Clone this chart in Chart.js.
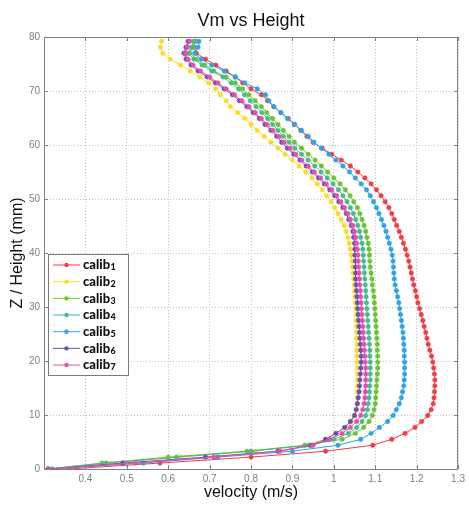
<!DOCTYPE html>
<html>
<head>
<meta charset="utf-8">
<script src="https://cdn.jsdelivr.net/npm/chart.js@4.4.1/dist/chart.umd.min.js"></script>
<style>
  html, body { margin: 0; padding: 0; background: #fff; }
  #wrap { width: 469px; height: 508px; }
</style>
</head>
<body>
<div id="wrap"><canvas id="vmChart" width="469" height="508"></canvas></div>
<script>
// heights (mm), shared by all runs
var heights = [0, 1.1, 2.2, 3.3, 4.4, 5.5, 6.6, 7.7, 8.8, 9.9,
  11, 12.1, 13.2, 14.3, 15.4, 16.5, 17.6, 18.7, 19.8, 20.9,
  22, 23.1, 24.2, 25.3, 26.4, 27.5, 28.6, 29.7, 30.8, 31.9,
  33, 34.1, 35.2, 36.3, 37.4, 38.5, 39.6, 40.7, 41.8, 42.9,
  44, 45.1, 46.2, 47.3, 48.4, 49.5, 50.6, 51.7, 52.8, 53.9,
  55, 56.1, 57.2, 58.3, 59.4, 60.5, 61.6, 62.7, 63.8, 64.9,
  66, 67.1, 68.2, 69.3, 70.4, 71.5, 72.6, 73.7, 74.8, 75.9,
  77, 78.1, 79.2];

// velocity (m/s) per run
var calib1 = [0.36, 0.58, 0.80, 0.98, 1.094, 1.14, 1.172, 1.196, 1.212, 1.227,
  1.235, 1.24, 1.242, 1.243, 1.244, 1.244, 1.243, 1.241, 1.239, 1.236,
  1.232, 1.228, 1.225, 1.222, 1.218, 1.215, 1.211, 1.207, 1.203, 1.2,
  1.197, 1.193, 1.19, 1.187, 1.184, 1.181, 1.177, 1.173, 1.168, 1.163,
  1.158, 1.152, 1.146, 1.14, 1.133, 1.124, 1.114, 1.103, 1.09, 1.075,
  1.058, 1.04, 1.018, 0.995, 0.972, 0.95, 0.935, 0.92, 0.905, 0.89,
  0.872, 0.855, 0.84, 0.825, 0.80, 0.78, 0.762, 0.74, 0.715, 0.69,
  0.668, 0.662, 0.665];
var calib2 = [0.31, 0.46, 0.63, 0.81, 0.93, 0.98, 1.005, 1.028, 1.042, 1.05,
  1.054, 1.056, 1.057, 1.057, 1.057, 1.057, 1.057, 1.057, 1.056, 1.056,
  1.056, 1.056, 1.055, 1.055, 1.055, 1.054, 1.054, 1.053, 1.052, 1.051,
  1.05, 1.049, 1.048, 1.047, 1.045, 1.044, 1.042, 1.04, 1.037, 1.034,
  1.03, 1.025, 1.018, 1.01, 1.002, 0.993, 0.983, 0.972, 0.96, 0.947,
  0.932, 0.916, 0.9, 0.882, 0.865, 0.848, 0.832, 0.815, 0.8, 0.785,
  0.768, 0.75, 0.74, 0.726, 0.714, 0.698, 0.676, 0.653, 0.63, 0.605,
  0.587, 0.581, 0.584];
var calib3 = [0.31, 0.44, 0.60, 0.79, 0.93, 1.02, 1.052, 1.072, 1.085, 1.093,
  1.097, 1.1, 1.101, 1.102, 1.103, 1.104, 1.105, 1.106, 1.106, 1.106,
  1.105, 1.105, 1.104, 1.103, 1.102, 1.101, 1.1, 1.099, 1.098, 1.097,
  1.095, 1.093, 1.092, 1.09, 1.088, 1.087, 1.086, 1.085, 1.083, 1.08,
  1.077, 1.073, 1.068, 1.063, 1.057, 1.048, 1.039, 1.028, 1.015, 1.0,
  0.985, 0.97, 0.955, 0.938, 0.922, 0.905, 0.892, 0.878, 0.865, 0.852,
  0.838, 0.825, 0.81, 0.795, 0.78, 0.762, 0.74, 0.71, 0.688, 0.668,
  0.652, 0.66, 0.666];
var calib4 = [0.31, 0.45, 0.62, 0.80, 0.94, 1.0, 1.035, 1.055, 1.068, 1.077,
  1.081, 1.083, 1.085, 1.086, 1.087, 1.088, 1.088, 1.088, 1.088, 1.087,
  1.087, 1.086, 1.085, 1.084, 1.083, 1.082, 1.081, 1.08, 1.079, 1.078,
  1.077, 1.076, 1.075, 1.074, 1.073, 1.072, 1.071, 1.07, 1.068, 1.065,
  1.062, 1.058, 1.053, 1.047, 1.04, 1.032, 1.022, 1.011, 0.998, 0.984,
  0.969, 0.954, 0.938, 0.922, 0.906, 0.892, 0.878, 0.865, 0.852, 0.84,
  0.826, 0.812, 0.798, 0.784, 0.77, 0.752, 0.732, 0.705, 0.682, 0.662,
  0.648, 0.656, 0.662];
var calib5 = [0.32, 0.54, 0.72, 0.90, 1.01, 1.065, 1.09, 1.11, 1.13, 1.143,
  1.151, 1.158, 1.163, 1.166, 1.169, 1.17, 1.171, 1.171, 1.171, 1.17,
  1.17, 1.169, 1.168, 1.167, 1.165, 1.163, 1.161, 1.159, 1.157, 1.154,
  1.151, 1.148, 1.146, 1.145, 1.144, 1.143, 1.141, 1.138, 1.134, 1.13,
  1.126, 1.121, 1.115, 1.109, 1.103, 1.096, 1.088, 1.079, 1.066, 1.052,
  1.038, 1.022, 1.005, 0.988, 0.97, 0.952, 0.938, 0.922, 0.905, 0.888,
  0.872, 0.855, 0.843, 0.835, 0.815, 0.785, 0.762, 0.735, 0.705, 0.68,
  0.664, 0.672, 0.674];
var calib6 = [0.31, 0.49, 0.69, 0.865, 0.945, 0.98, 1.005, 1.026, 1.04, 1.05,
  1.054, 1.057, 1.059, 1.061, 1.062, 1.063, 1.064, 1.065, 1.066, 1.066,
  1.065, 1.064, 1.063, 1.062, 1.061, 1.06, 1.059, 1.058, 1.057, 1.056,
  1.055, 1.054, 1.053, 1.053, 1.052, 1.052, 1.051, 1.051, 1.05, 1.048,
  1.046, 1.042, 1.036, 1.03, 1.022, 1.012, 1.002, 0.99, 0.977, 0.963,
  0.948, 0.933, 0.918, 0.903, 0.888, 0.874, 0.862, 0.848, 0.834, 0.82,
  0.805, 0.79, 0.772, 0.755, 0.735, 0.714, 0.694, 0.672, 0.655, 0.643,
  0.638, 0.643, 0.648];
var calib7 = [0.31, 0.52, 0.71, 0.87, 0.95, 0.99, 1.02, 1.04, 1.055, 1.065,
  1.07, 1.073, 1.075, 1.076, 1.077, 1.077, 1.077, 1.077, 1.076, 1.075,
  1.074, 1.073, 1.072, 1.071, 1.07, 1.069, 1.068, 1.067, 1.066, 1.065,
  1.064, 1.063, 1.062, 1.061, 1.06, 1.059, 1.058, 1.057, 1.055, 1.053,
  1.05, 1.046, 1.04, 1.034, 1.026, 1.017, 1.007, 0.995, 0.982, 0.968,
  0.953, 0.938, 0.923, 0.908, 0.894, 0.88, 0.867, 0.853, 0.839, 0.825,
  0.81, 0.795, 0.778, 0.76, 0.74, 0.72, 0.7, 0.678, 0.66, 0.648,
  0.642, 0.646, 0.652];

var seriesNames = ['calib1', 'calib2', 'calib3', 'calib4', 'calib5', 'calib6', 'calib7'];
var seriesValues = [calib1, calib2, calib3, calib4, calib5, calib6, calib7];
var seriesColors = ['#f23c46', '#fbdc2a', '#6ec234', '#3fbf8c', '#2ea3e6', '#6c4fb4', '#e64fb0'];

var datasets = seriesValues.map(function (vals, k) {
  return {
    label: seriesNames[k],
    data: vals.map(function (v, i) { return { x: v, y: heights[i] }; }),
    borderColor: seriesColors[k],
    backgroundColor: seriesColors[k],
    borderWidth: 1,
    pointRadius: 2.2,
    pointBorderWidth: 0.6,
    showLine: true,
    order: seriesNames.length - k
  };
});

// frame, inner ticks, titles and legend, MATLAB style
var matlabDecor = {
  id: 'matlabDecor',
  afterDraw: function (chart) {
    var ctx = chart.ctx, a = chart.chartArea, sx = chart.scales.x, sy = chart.scales.y;
    ctx.save();
    ctx.strokeStyle = '#808080';
    ctx.lineWidth = 1;
    ctx.strokeRect(a.left + 0.5, a.top + 0.5, a.right - a.left - 1, a.bottom - a.top);
    ctx.beginPath();
    sx.ticks.forEach(function (t) {
      var px = Math.round(sx.getPixelForValue(t.value)) + 0.5;
      ctx.moveTo(px, a.bottom); ctx.lineTo(px, a.bottom - 4);
      ctx.moveTo(px, a.top); ctx.lineTo(px, a.top + 4);
    });
    sy.ticks.forEach(function (t) {
      var py = Math.round(sy.getPixelForValue(t.value)) + 0.5;
      ctx.moveTo(a.left, py); ctx.lineTo(a.left + 4, py);
      ctx.moveTo(a.right, py); ctx.lineTo(a.right - 4, py);
    });
    ctx.stroke();

    ctx.fillStyle = '#111';
    ctx.textAlign = 'center';
    ctx.textBaseline = 'middle';
    ctx.font = '18px "Liberation Sans", Arial, sans-serif';
    ctx.fillText('Vm vs Height', (a.left + a.right) / 2, 21);
    ctx.font = '16px "Liberation Sans", Arial, sans-serif';
    ctx.fillText('velocity (m/s)', (a.left + a.right) / 2, 493);
    ctx.save();
    ctx.translate(18, (a.top + a.bottom) / 2);
    ctx.rotate(-Math.PI / 2);
    ctx.fillText('Z / Height (mm)', 0, 0);
    ctx.restore();

    // legend box
    var bx = 48, by = 254, bw = 80, bh = 121;
    ctx.fillStyle = '#fff';
    ctx.fillRect(bx, by, bw, bh);
    ctx.strokeStyle = '#7a7a7a';
    ctx.strokeRect(bx + 0.5, by + 0.5, bw, bh);
    chart.data.datasets.forEach(function (ds, k) {
      var y = 265 + k * 16.67;
      ctx.strokeStyle = ds.borderColor;
      ctx.lineWidth = 1;
      ctx.beginPath();
      ctx.moveTo(53, y); ctx.lineTo(80, y);
      ctx.stroke();
      ctx.fillStyle = ds.borderColor;
      ctx.beginPath();
      ctx.arc(66.5, y, 2.2, 0, Math.PI * 2);
      ctx.fill();
      var name = ds.label.replace(/\d+$/, '');
      var num = ds.label.slice(name.length);
      ctx.fillStyle = '#111';
      ctx.textAlign = 'left';
      ctx.textBaseline = 'middle';
      ctx.font = '900 13px Lato, "Liberation Sans", sans-serif';
      ctx.fillText(name, 83, y);
      var w = ctx.measureText(name).width;
      ctx.font = '900 9px Lato, "Liberation Sans", sans-serif';
      ctx.fillText(num, 83 + w + 0.5, y + 2.5);
    });
    ctx.restore();
  }
};

var ctx = document.getElementById('vmChart').getContext('2d');
var vmChart = new Chart(ctx, {
  type: 'scatter',
  data: { datasets: datasets },
  options: {
    responsive: false,
    animation: false,
    layout: { padding: { top: 37, right: 7, left: 0, bottom: 0 } },
    plugins: {
      legend: { display: false },
      title: { display: false },
      tooltip: { enabled: false }
    },
    scales: {
      x: {
        type: 'linear',
        min: 0.3,
        max: 1.3,
        afterFit: function (scale) { scale.height = 39; },
        ticks: {
          stepSize: 0.1,
          padding: 4,
          color: '#808080',
          font: { size: 10, family: '"Liberation Sans", Arial, sans-serif' },
          maxRotation: 0,
          callback: function (value) {
            var v = Math.round(value * 10) / 10;
            return v === 0.3 ? '' : String(v);
          }
        },
        grid: { color: '#c4c4c4', lineWidth: 1, drawTicks: false },
        border: { display: false, dash: [1, 2] }
      },
      y: {
        type: 'linear',
        min: 0,
        max: 80,
        afterFit: function (scale) { scale.width = 44; },
        ticks: {
          stepSize: 10,
          padding: 4,
          color: '#808080',
          font: { size: 10, family: '"Liberation Sans", Arial, sans-serif' }
        },
        grid: { color: '#c4c4c4', lineWidth: 1, drawTicks: false },
        border: { display: false, dash: [1, 2] }
      }
    }
  },
  plugins: [matlabDecor]
});
</script>
</body>
</html>
